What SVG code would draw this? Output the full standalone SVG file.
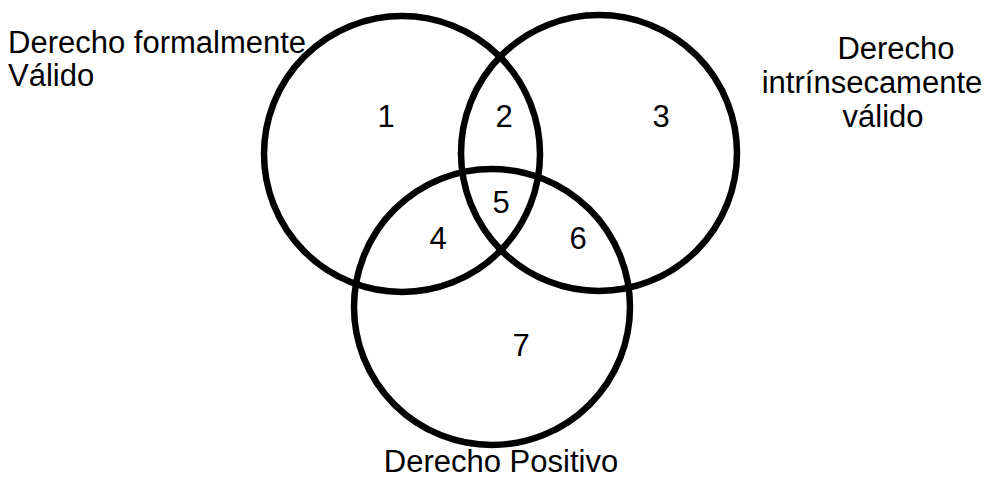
<svg xmlns="http://www.w3.org/2000/svg" width="986" height="479" viewBox="0 0 986 479">
<style>
.c{fill:none;stroke:#000;stroke-width:6.5}
.t{font-family:"Liberation Sans",Arial,sans-serif;font-size:31px;fill:#000}
.m{text-anchor:middle}
</style>
<rect width="986" height="479" fill="#fff"/>
<g id="circle-formal"><circle class="c" cx="402" cy="154" r="138"/></g>
<g id="circle-intrinseco"><circle class="c" cx="599" cy="153" r="138"/></g>
<g id="circle-positivo"><circle class="c" cx="492" cy="307" r="138"/></g>
<g id="labels">
<text class="t" x="8" y="53">Derecho formalmente</text>
<text class="t" x="8" y="86">Válido</text>
<text class="t m" x="896" y="59">Derecho</text>
<text class="t m" x="872" y="93">intrínsecamente</text>
<text class="t m" x="883" y="127">válido</text>
<text class="t m" x="501" y="472">Derecho Positivo</text>
</g>
<g id="regions">
<text class="t m" x="386" y="127">1</text>
<text class="t m" x="504" y="127">2</text>
<text class="t m" x="661" y="127">3</text>
<text class="t m" x="438" y="249">4</text>
<text class="t m" x="501" y="213">5</text>
<text class="t m" x="578" y="249">6</text>
<text class="t m" x="521" y="356">7</text>
</g>
</svg>
